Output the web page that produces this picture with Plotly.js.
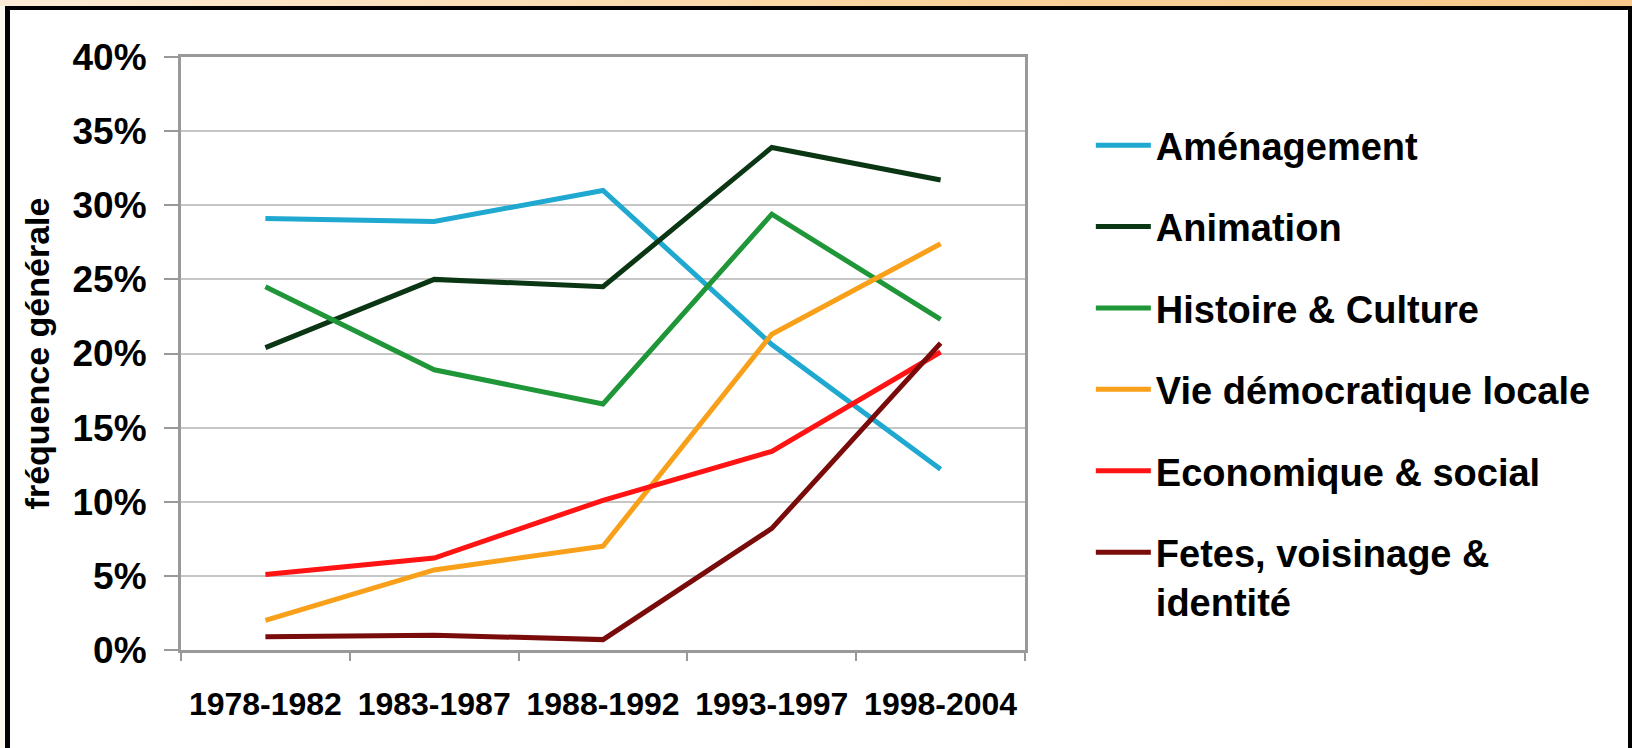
<!DOCTYPE html>
<html>
<head>
<meta charset="utf-8">
<script src="https://cdn.plot.ly/plotly-3.0.1.min.js"></script>
<style>
  html, body { margin: 0; padding: 0; width: 1632px; height: 748px; overflow: hidden; background: #fdf8ee; }
  #strip { position: absolute; left: 0; top: 0; width: 1632px; height: 6px;
           background: linear-gradient(to right, #fcecd6, #f9d29a 60%, #f8c98a); }
  #frame { position: absolute; left: 5px; top: 6px; width: 1618px; height: 742px;
           border-left: 5px solid #000; border-top: 4px solid #000; border-right: 4px solid #000;
           background: #fff; }
  #chart { position: absolute; left: 0; top: 0; width: 1618px; height: 738px; }
</style>
</head>
<body>
<div id="strip"></div>
<div id="frame"><div id="chart"></div></div>
<script>
const categories = ['1978-1982', '1983-1987', '1988-1992', '1993-1997', '1998-2004'];
const seriesNames = ['Aménagement', 'Animation', 'Histoire & Culture', 'Vie démocratique locale', 'Economique & social', 'Fetes, voisinage &<br>identité'];
const amenagement = [29.1, 28.9, 31.0, 20.6, 12.2];
const animation   = [20.4, 25.0, 24.5, 33.9, 31.7];
const histoire    = [24.5, 18.9, 16.6, 29.4, 22.3];
const vieDemo     = [2.0, 5.4, 7.0, 21.3, 27.4];
const economique  = [5.1, 6.2, 10.1, 13.4, 20.1];
const fetes       = [0.9, 1.0, 0.7, 8.2, 20.7];
const colors = ['#1fa8d0', '#0b3614', '#1f9638', '#f8a01a', '#ff1313', '#7a0b0b'];

const allSeries = [amenagement, animation, histoire, vieDemo, economique, fetes];
const traces = allSeries.map((vals, i) => ({
  type: 'scatter', mode: 'lines',
  x: categories, y: vals,
  name: seriesNames[i],
  legendgroup: 'g' + i,
  line: { color: colors[i], width: 5 }
}));

const FONT = 'Liberation Sans, Arial, sans-serif';
const layout = {
  width: 1618, height: 738,
  margin: { l: 171, r: 603, t: 47, b: 98 },
  paper_bgcolor: '#ffffff', plot_bgcolor: '#ffffff',
  font: { family: FONT, color: '#000', size: 34, weight: 'bold' },
  showlegend: true,
  legend: {
    x: 1.078, xanchor: 'left', y: 0.904, yanchor: 'top',
    font: { family: FONT, size: 38, color: '#000', weight: 'bold' },
    tracegroupgap: 29, valign: 'top', itemwidth: 55, bgcolor: 'rgba(0,0,0,0)'
  },
  xaxis: {
    type: 'category', range: [-0.5, 4.5],
    tickson: 'boundaries', ticks: 'outside', ticklen: 8, tickwidth: 2, tickcolor: '#999',
    showline: true, linecolor: '#999', linewidth: 3, mirror: true,
    showgrid: false, zeroline: false,
    ticklabelstandoff: 24,
    tickfont: { family: FONT, size: 32, color: '#000', weight: 'bold' }
  },
  yaxis: {
    range: [0, 40], dtick: 5, ticksuffix: '%',
    ticks: 'outside', ticklen: 14, tickwidth: 2, tickcolor: '#999',
    showline: true, linecolor: '#999', linewidth: 3, mirror: true,
    showgrid: true, gridcolor: '#c6c6c6', gridwidth: 2, zeroline: false,
    ticklabelstandoff: 10,
    tickfont: { family: FONT, size: 37, color: '#000', weight: 'bold' },
    title: { text: 'fréquence générale', standoff: 13,
             font: { family: FONT, size: 34, color: '#000', weight: 'bold' } }
  }
};

Plotly.newPlot('chart', traces, layout, { displayModeBar: false, staticPlot: true });
</script>
</body>
</html>
